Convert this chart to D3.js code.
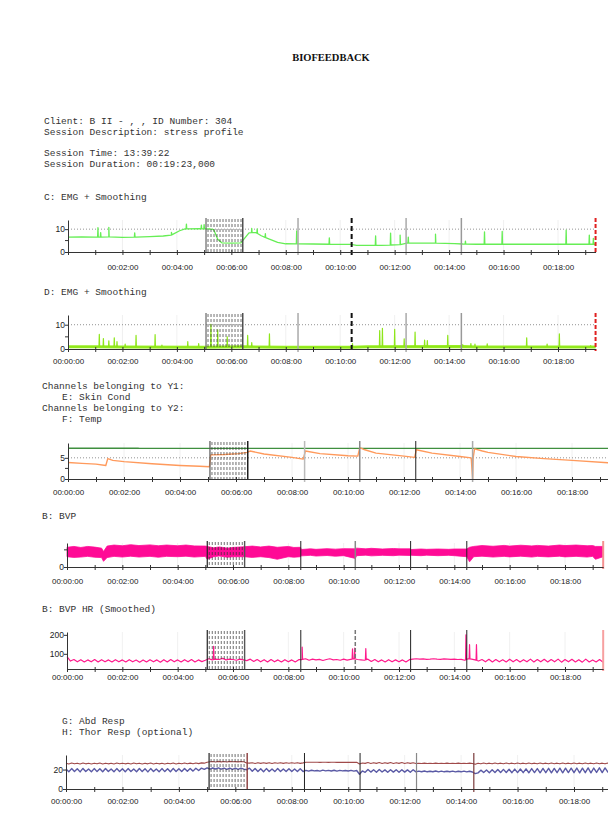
<!DOCTYPE html>
<html>
<head>
<meta charset="utf-8">
<script src="https://cdn.jsdelivr.net/npm/d3@7"></script>
<style>
  body { margin: 0; background: #fff; }
  .mono { font-family: "Liberation Mono", "Courier New", monospace; font-size: 9.5px; fill: #333; }
  .tick text { font-family: "Liberation Sans Narrow", "Liberation Sans", Arial, sans-serif; font-size: 8px; fill: #222; }
</style>
</head>
<body>
<div id="chart"></div>
<script>
// ---- data (time in minutes) ----
var sessionEnd = 19.38;
var blockStart = 5.07, blockEnd = 6.42;
var eventTimes = [8.45, 10.42, 12.42, 14.45];

var infoLines = ["Client: B II - , , ID Number: 304", "Session Description: stress profile"];
var sessionLines = ["Session Time: 13:39:22", "Session Duration: 00:19:23,000"];

// C: EMG + Smoothing
var emgCBase = [[0,6.5],[0.5,6.6],[1,6.5],[1.5,6.6],[2,6.4],[2.5,6.5],[3,6.7],[3.5,7.0],[3.8,7.4],[4.1,9.3],[4.3,10.1],
  [4.8,10.2],[5.2,10.1],[5.35,9.8],[5.5,5.6],[5.65,4.0],[6.0,3.9],[6.35,4.0],[6.5,6.2],[6.65,8.4],[6.9,8.5],[7.1,7.1],
  [7.4,5.6],[7.7,4.2],[8.0,3.6],[9.0,3.5],[10.0,3.3],[10.4,3.3],[10.6,2.9],[11.5,2.9],[12.2,3.2],[12.45,3.9],[13.5,3.9],
  [14.2,3.7],[14.5,3.5],[15,3.4],[17,3.4],[19.38,3.4]];
var emgCSpikes = [[1.1,10.6],[1.2,8.5],[1.5,10.8],[2.45,8.4],[3.8,8.6],[4.35,12.2],[4.9,11.8],[5.0,12.0],[6.75,10.3],
  [6.95,10.1],[7.25,8.0],[8.4,9.2],[9.6,6.2],[11.3,7.0],[11.85,8.3],[12.2,7.4],[12.5,6.5],[13.5,7.8],[14.6,4.8],
  [15.3,8.8],[15.95,9.0],[18.3,9.6],[19.15,7.4],[19.3,6.0]];

// D: EMG + Smoothing
var emgDBase = [[0,0.9],[1,0.9],[2,0.8],[5,0.7],[6.5,0.9],[8,0.7],[10.4,0.7],[11,0.9],[14.5,1.0],[15,0.8],[19.38,0.8]];
var emgDSpikes = [[1.15,6.0],[1.3,4.3],[1.5,3.4],[1.7,4.6],[1.8,3.0],[2.1,2.0],[2.5,5.6],[3.2,5.9],[3.45,1.6],[4.4,3.0],
  [4.8,2.2],[5.25,10.1],[5.5,7.9],[5.85,5.0],[6.6,5.6],[6.75,2.6],[7.4,6.2],[10.45,2.2],[11.45,7.6],[11.55,8.5],
  [12.0,8.1],[12.35,4.2],[12.75,7.0],[13.1,3.7],[13.2,3.5],[13.95,5.6],[14.5,1.8],[14.8,2.2],[14.95,2.0],[15.4,2.1],
  [16.85,4.6],[17.6,2.0],[18.05,6.2],[19.2,1.4]];

// E: Skin Cond (Y1), F: Temp (Y2)
var skinCond = [[0,3.9],[0.5,3.7],[1.0,3.5],[1.35,3.2],[1.42,4.8],[1.6,4.4],[2,4.1],[3,3.6],[4,3.2],[4.7,3.0],[5.05,2.9],
  [5.1,5.7],[5.6,5.8],[6.1,6.0],[6.4,6.3],[6.5,6.6],[7,5.9],[8,5.1],[8.4,4.7],[8.48,6.6],[9,6.0],[10,5.5],[10.35,5.4],
  [10.42,7.4],[10.6,6.9],[11,6.1],[12,5.4],[12.38,5.1],[12.44,6.9],[13,6.1],[14,5.3],[14.4,5.0],[14.45,0],[14.47,5.0],
  [14.52,7.1],[14.8,6.6],[15,6.3],[16,5.3],[17,4.8],[18,4.4],[19.38,3.8]];
var temp = [[0,34.2],[2.5,34.2],[2.55,34.0],[19.38,34.0]];

// B: BVP  [t, low, high]
var bvpBand = [[0,0.6,1.15],[0.25,0.56,1.2],[0.5,0.58,1.14],[0.75,0.62,1.2],[1,0.57,1.16],[1.25,0.55,1.1],[1.32,0.33,0.9],
  [1.45,0.55,1.22],[1.7,0.62,1.28],[2,0.58,1.24],[2.3,0.63,1.3],[2.6,0.58,1.25],[3,0.62,1.29],[3.3,0.57,1.24],
  [3.6,0.62,1.28],[4,0.6,1.24],[4.3,0.63,1.28],[4.6,0.58,1.23],[5,0.62,1.22],[5.07,0.45,1.2],[5.3,0.6,1.12],[5.5,0.64,1.17],
  [5.8,0.57,1.1],[6,0.6,1.14],[6.4,0.6,1.18],[6.7,0.56,1.22],[7,0.6,1.17],[7.3,0.55,1.22],[7.6,0.45,1.15],[8,0.6,1.2],
  [8.2,0.57,1.14],[8.44,0.6,1.15],[8.47,0.65,1.02],[8.8,0.68,1.06],[9,0.64,1.03],[9.4,0.67,1.07],[9.7,0.63,1.04],
  [10,0.66,1.07],[10.42,0.5,1.06],[10.47,0.66,1.1],[10.8,0.69,1.06],[11,0.65,1.09],[11.4,0.68,1.05],[11.8,0.66,1.08],
  [12,0.69,1.06],[12.42,0.67,1.06],[12.45,0.68,1.02],[12.8,0.66,1.05],[13,0.69,1.03],[13.4,0.66,1.05],[13.8,0.68,1.03],
  [14,0.66,1.05],[14.45,0.6,1.05],[14.55,0.3,1.15],[14.7,0.6,1.2],[15,0.63,1.25],[15.4,0.58,1.21],[15.8,0.62,1.26],
  [16,0.59,1.22],[16.4,0.63,1.27],[16.8,0.58,1.23],[17,0.62,1.26],[17.4,0.59,1.22],[17.8,0.63,1.28],[18,0.59,1.25],
  [18.4,0.62,1.28],[18.8,0.58,1.24],[19,0.62,1.25],[19.1,0.45,1.2],[19.38,0.6,1.2]];

// B: BVP HR (Smoothed), one value every 0.125 min
var hrStep = 0.125;
var hrValues = [
  85,62,70,58,69,57,68,58,70,57,69,58,68,57,69,58,
  68,57,69,58,67,56,68,57,69,58,68,56,69,57,70,58,
  68,57,69,58,70,57,68,59,66,74,68,72,70,76,68,72,
  70,66,72,68,64,72,60,70,58,69,57,70,58,68,57,69,
  58,68,57,69,70,74,66,72,68,71,65,70,74,68,70,66,
  72,67,71,74,70,68,66,72,60,70,58,68,57,69,58,68,
  58,68,57,69,72,74,72,73,71,72,74,72,71,73,72,71,
  72,70,71,66,74,72,68,62,70,58,71,57,70,58,69,57,
  71,58,70,57,69,58,72,57,70,58,71,57,70,58,72,56,
  70,58,71,57,69,56,72,57,68,57,70,56];
var hrSpikes = [[5.3,140],[8.5,135],[10.32,126],[10.4,130],[10.8,128],[14.42,200],[14.55,148],[14.8,148]];

// G: Abd Resp, H: Thor Resp, one value every 0.1 min
var respStep = 0.1;
var abdResp = [
  26.6,25.8,26.7,25.9,26.6,25.8,26.7,25.9,26.5,25.8,26.6,25.9,26.7,25.8,26.6,25.9,26.5,25.8,26.7,25.9,
  26.6,25.9,26.5,25.8,26.7,25.9,26.6,25.8,26.5,25.9,26.7,25.8,26.6,25.9,26.5,25.8,26.6,25.9,26.7,25.8,
  26.6,25.9,26.7,26.0,26.6,26.0,26.8,26.1,26.9,26.6,27.5,28.0,28.3,27.8,28.4,27.9,28.3,27.8,28.4,28.0,
  28.2,27.9,28.3,28.0,26.8,26.6,27.0,26.3,27.1,26.4,27.0,26.4,27.1,26.3,27.0,26.5,27.1,26.4,27.0,26.5,
  27.0,26.5,27.1,26.4,26.9,27.6,27.5,27.6,27.5,27.6,27.4,27.5,27.5,27.4,27.5,27.5,27.4,27.5,27.4,27.5,
  27.4,27.5,27.4,27.5,25.8,26.8,26.4,27.2,26.3,27.1,26.4,27.2,26.3,27.1,26.4,27.2,26.3,27.1,26.4,27.2,
  26.3,27.1,26.4,27.0,26.2,26.5,26.3,26.6,26.2,26.5,26.3,26.6,26.2,26.5,26.3,26.6,26.2,26.5,26.3,26.6,
  26.2,26.5,26.3,26.6,26.2,25.4,26.6,25.9,26.7,26.0,26.6,25.9,26.7,26.0,26.6,25.9,26.7,26.0,26.6,25.9,
  26.7,26.0,26.6,25.9,26.7,26.0,26.6,25.9,26.7,26.0,26.6,25.9,26.7,26.0,26.6,25.9,26.7,26.0,26.6,25.9,
  26.7,26.0,26.6,25.9,26.7,26.0,26.6,25.9,26.7,26.0,26.6,25.9,26.7,26.2];
var thorResp = [
  20.5,17.8,21.0,18.0,20.8,17.6,21.2,18.0,20.6,17.8,21.0,17.9,20.9,17.7,21.1,18.0,20.7,17.8,21.0,17.9,
  20.8,17.7,21.0,18.0,20.6,17.8,21.1,17.9,20.9,17.6,21.0,18.0,20.7,17.8,21.0,17.9,20.8,17.8,21.2,18.1,
  20.9,18.0,21.2,18.2,21.0,18.4,21.3,19.0,21.5,20.2,21.8,20.5,21.6,20.6,21.7,20.4,21.5,20.3,21.6,20.2,
  21.4,20.3,21.5,20.4,19.8,21.5,18.2,21.2,18.0,20.9,17.8,21.0,18.0,20.7,17.9,21.0,18.1,20.6,17.9,20.8,
  18.0,20.6,17.9,20.8,18.0,19.2,18.4,19.3,18.6,19.1,18.4,19.4,18.7,19.2,18.5,19.3,18.4,19.2,18.6,19.1,
  18.5,19.2,18.4,19.0,15.2,18.6,17.2,20.0,17.4,19.8,17.3,20.0,17.5,19.7,17.2,19.9,17.4,19.8,17.3,19.9,
  17.4,19.7,17.3,19.8,17.6,18.4,17.8,18.5,17.7,18.3,17.8,18.5,17.6,18.4,17.7,18.3,17.8,18.4,17.6,18.3,
  17.7,18.4,17.6,18.3,17.5,15.8,16.6,19.4,17.0,19.6,16.8,19.8,17.0,20.0,16.9,20.2,17.0,20.3,16.8,20.5,
  16.9,20.6,16.8,20.8,16.7,21.0,16.9,21.0,16.7,21.2,16.8,21.3,16.6,21.2,16.8,21.4,16.7,21.5,16.9,21.4,
  16.8,21.6,16.7,21.5,16.8,21.7,16.6,21.6,17.0,21.8,16.9,21.7,17.5,20.4];

// ---- drawing ----
var svg = d3.select("#chart")
  .append("svg")
    .attr("width", 608)
    .attr("height", 820)
    .style("background", "#fff");

// header texts
svg.append("text")
  .attr("x", 331).attr("y", 61)
  .attr("text-anchor", "middle")
  .style("font-family", "'Liberation Serif', 'Times New Roman', serif")
  .style("font-weight", "bold")
  .style("font-size", "10.5px")
  .style("fill", "#111")
  .text("BIOFEEDBACK");

function mono(x, y, s) {
  svg.append("text").attr("class", "mono").attr("x", x).attr("y", y)
    .attr("xml:space", "preserve").text(s);
}
infoLines.forEach(function(s, i) { mono(44, 124 + i * 11, s); });
sessionLines.forEach(function(s, i) { mono(44, 156 + i * 11, s); });
mono(44, 200, "C: EMG + Smoothing");
mono(44, 295, "D: EMG + Smoothing");
mono(42, 389, "Channels belonging to Y1:");
mono(62, 400, "E: Skin Cond");
mono(42, 411, "Channels belonging to Y2:");
mono(62, 422, "F: Temp");
mono(42, 519, "B: BVP");
mono(42, 612, "B: BVP HR (Smoothed)");
mono(62, 724, "G: Abd Resp");
mono(62, 735, "H: Thor Resp (optional)");

function fmtTime(m) {
  return m % 2 ? "" : "00:" + d3.format("02")(m) + ":00";
}

// builds the frame of one panel and returns its scales
function panel(p) {
  var xEnd = p.x0 + (p.x18 - p.x0) * sessionEnd / 18;
  var x = d3.scaleLinear().domain([0, sessionEnd]).range([p.x0, xEnd]);
  var y = d3.scaleLinear().domain(p.yDomain).range([p.yBase, p.yTop]);
  var g = svg.append("g");

  // faint vertical grid
  g.selectAll("vgrid")
    .data(d3.range(2, 20, 2))
    .enter()
    .append("line")
      .attr("x1", function(d) { return x(d); })
      .attr("x2", function(d) { return x(d); })
      .attr("y1", p.yTop)
      .attr("y2", p.yBase)
      .attr("stroke", "#ececec")
      .attr("stroke-width", 0.8);

  // dotted horizontal grid
  g.selectAll("hgrid")
    .data(p.grid)
    .enter()
    .append("line")
      .attr("x1", p.x0)
      .attr("x2", Math.min(xEnd, 608))
      .attr("y1", function(d) { return y(d); })
      .attr("y2", function(d) { return y(d); })
      .attr("stroke", "#777")
      .attr("stroke-width", 0.8)
      .attr("stroke-dasharray", "1,2");

  var layer = svg.append("g");
  return { x: x, y: y, g: g, layer: layer, p: p, xEnd: xEnd };
}

// markers and axes drawn after the series
function finish(P) {
  var x = P.x, y = P.y, p = P.p, g = svg.append("g");
  var x1 = x(blockStart), x2 = x(blockEnd);

  // hatched block
  g.selectAll("hatch")
    .data(d3.range(x1 + 2, x2 - 1, 3))
    .enter()
    .append("line")
      .attr("x1", function(d) { return d; })
      .attr("x2", function(d) { return d; })
      .attr("y1", p.yTop - 1)
      .attr("y2", p.yBase)
      .attr("stroke", "#333")
      .attr("stroke-width", 0.7)
      .attr("stroke-dasharray", "3,2");
  g.append("line").attr("x1", x1).attr("x2", x1).attr("y1", p.yTop - 2).attr("y2", p.yBase)
    .attr("stroke", p.blockLeft).attr("stroke-width", 1.2);
  g.append("line").attr("x1", x2).attr("x2", x2).attr("y1", p.yTop - 2).attr("y2", p.yBase)
    .attr("stroke", p.blockRight).attr("stroke-width", 1.4);

  // event lines
  g.selectAll("ev")
    .data(eventTimes)
    .enter()
    .append("line")
      .attr("x1", function(d) { return x(d); })
      .attr("x2", function(d) { return x(d); })
      .attr("y1", p.yTop - 2)
      .attr("y2", p.yBase + 3)
      .attr("stroke", function(d, i) { return p.events[i].c; })
      .attr("stroke-width", function(d, i) { return p.events[i].w; })
      .attr("stroke-dasharray", function(d, i) { return p.events[i].dash || null; });

  // session end
  if (p.endColor) {
    g.append("line")
      .attr("x1", x(sessionEnd)).attr("x2", x(sessionEnd))
      .attr("y1", p.yTop - 2).attr("y2", p.yBase + 2)
      .attr("stroke", p.endColor).attr("stroke-width", 2)
      .attr("stroke-dasharray", p.endDash || null);
  }

  // X axis
  var xa = g.append("g")
    .attr("transform", "translate(0," + p.yBase + ")")
    .call(d3.axisBottom(x)
      .tickValues(d3.range(0, 20))
      .tickSize(3)
      .tickSizeOuter(0)
      .tickFormat(function(d) { return (p.skipZero && d === 0) ? "" : fmtTime(d); }));
  xa.selectAll(".tick line").attr("y1", -2).attr("y2", 3);
  xa.selectAll(".tick text").attr("y", p.labelDy).attr("dy", 0);

  // Y axis
  var ya = g.append("g")
    .attr("transform", "translate(" + p.x0 + ",0)")
    .call(d3.axisLeft(y)
      .tickValues(p.yTicks)
      .tickSize(3)
      .tickSizeOuter(0)
      .tickFormat(d3.format("d")));
  ya.selectAll(".tick text").attr("x", -3).style("font-size", "8.5px");
  g.selectAll("minor")
    .data(p.yMinor)
    .enter()
    .append("line")
      .attr("x1", p.x0 - 3)
      .attr("x2", p.x0)
      .attr("y1", function(d) { return y(d); })
      .attr("y2", function(d) { return y(d); })
      .attr("stroke", "#333");

  svg.selectAll(".domain, .tick line").attr("stroke", "#333").attr("stroke-width", 1);
}

// helpers for series
function baseAt(base, t) {
  var i = d3.bisector(function(d) { return d[0]; }).left(base, t);
  if (i <= 0) return base[0][1];
  if (i >= base.length) return base[base.length - 1][1];
  var a = base[i - 1], b = base[i];
  return a[1] + (b[1] - a[1]) * (t - a[0]) / (b[0] - a[0]);
}
function withSpikes(base, spikes, w) {
  var pts = base.slice();
  spikes.forEach(function(s) {
    pts.push([s[0] - w, baseAt(base, s[0] - w)], [s[0], s[1]], [s[0] + w, baseAt(base, s[0] + w)]);
  });
  pts.sort(function(a, b) { return a[0] - b[0]; });
  return pts;
}
function stepped(values, step) {
  return values.map(function(v, i) { return [i * step, v]; });
}
function drawLine(P, data, color, width, yScale) {
  var ys = yScale || P.y;
  P.layer.append("path")
    .datum(data)
    .attr("fill", "none")
    .attr("stroke", color)
    .attr("stroke-width", width)
    .attr("stroke-linejoin", "round")
    .attr("d", d3.line()
      .x(function(d) { return P.x(d[0]); })
      .y(function(d) { return ys(d[1]); }));
}

var grayEv = { c: "#aaa", w: 1.5 };

// Panel C
var pC = panel({ x0: 68, x18: 558, yTop: 220, yBase: 252, yDomain: [0, 14], yTicks: [0, 10], yMinor: [5],
  grid: [10], labelDy: 18, skipZero: true, blockLeft: "#666", blockRight: "#444",
  events: [grayEv, { c: "#111", w: 2, dash: "5,3" }, grayEv, { c: "#999", w: 1.5 }],
  endColor: "#e02020", endDash: "4,2" });
drawLine(pC, withSpikes(emgCBase, emgCSpikes, 0.012), "#66ee55", 1.3);
finish(pC);

// Panel D
var pD = panel({ x0: 68, x18: 558, yTop: 315, yBase: 349, yDomain: [0, 14], yTicks: [0, 10], yMinor: [5],
  grid: [10], labelDy: 15, skipZero: false, blockLeft: "#666", blockRight: "#444",
  events: [grayEv, { c: "#111", w: 2, dash: "5,3" }, grayEv, { c: "#999", w: 1.5 }],
  endColor: "#e02020", endDash: "4,2" });
drawLine(pD, emgDBase, "#99ee22", 3);
drawLine(pD, withSpikes(emgDBase, emgDSpikes, 0.012), "#8ee61a", 1.2);
finish(pD);

// Panel E/F
var pE = panel({ x0: 68, x18: 572, yTop: 443, yBase: 479, yDomain: [0, 8.5], yTicks: [0, 5], yMinor: [2.5],
  grid: [5], labelDy: 16, skipZero: false, blockLeft: "#555", blockRight: "#111",
  events: [{ c: "#bbb", w: 1.5 }, { c: "#888", w: 1.5 }, { c: "#222", w: 1 }, { c: "#aaa", w: 1.5 }],
  endColor: null });
var yTemp = d3.scaleLinear().domain([0, 40]).range([479, 443]);
drawLine(pE, temp, "#3f8f3f", 1.4, yTemp);
drawLine(pE, skinCond, "#ff9a5c", 1.4);
finish(pE);

// Panel BVP
var pB = panel({ x0: 67, x18: 565, yTop: 543, yBase: 567, yDomain: [0, 1.4], yTicks: [0], yMinor: [1],
  grid: [], labelDy: 17, skipZero: false, blockLeft: "#222", blockRight: "#555",
  events: [{ c: "#222", w: 1 }, { c: "#888", w: 1.5 }, { c: "#222", w: 1 }, { c: "#222", w: 1 }],
  endColor: "#f59090" });
pB.layer.append("path")
  .datum(bvpBand)
  .attr("fill", "#ff0a96")
  .attr("stroke", "#ff0a96")
  .attr("stroke-width", 0.8)
  .attr("d", d3.area()
    .x(function(d) { return pB.x(d[0]); })
    .y0(function(d) { return pB.y(d[1]); })
    .y1(function(d) { return pB.y(d[2]); }));
finish(pB);

// Panel HR
var pH = panel({ x0: 67, x18: 565, yTop: 632, yBase: 669, yDomain: [20, 215], yTicks: [100, 200], yMinor: [],
  grid: [], labelDy: 11, skipZero: false, blockLeft: "#222", blockRight: "#555",
  events: [{ c: "#222", w: 1 }, { c: "#777", w: 1.5, dash: "4,2" }, { c: "#222", w: 1 }, { c: "#222", w: 1 }],
  endColor: "#f7a0a0" });
drawLine(pH, withSpikes(stepped(hrValues, hrStep), hrSpikes, 0.015), "#ff1a8c", 1.2);
finish(pH);

// Panel Resp
var pR = panel({ x0: 66, x18: 574, yTop: 755, yBase: 789, yDomain: [0, 35], yTicks: [0, 20], yMinor: [],
  grid: [], labelDy: 15, skipZero: false, blockLeft: "#222", blockRight: "#8a3a3a",
  events: [{ c: "#222", w: 1 }, { c: "#222", w: 1 }, { c: "#888", w: 1.2 }, { c: "#7a3a3a", w: 1.2 }],
  endColor: "#f06060" });
drawLine(pR, stepped(abdResp, respStep), "#a04a4a", 1.1);
drawLine(pR, stepped(thorResp, respStep), "#5a5aa5", 1.4);
finish(pR);
</script>
</body>
</html>
